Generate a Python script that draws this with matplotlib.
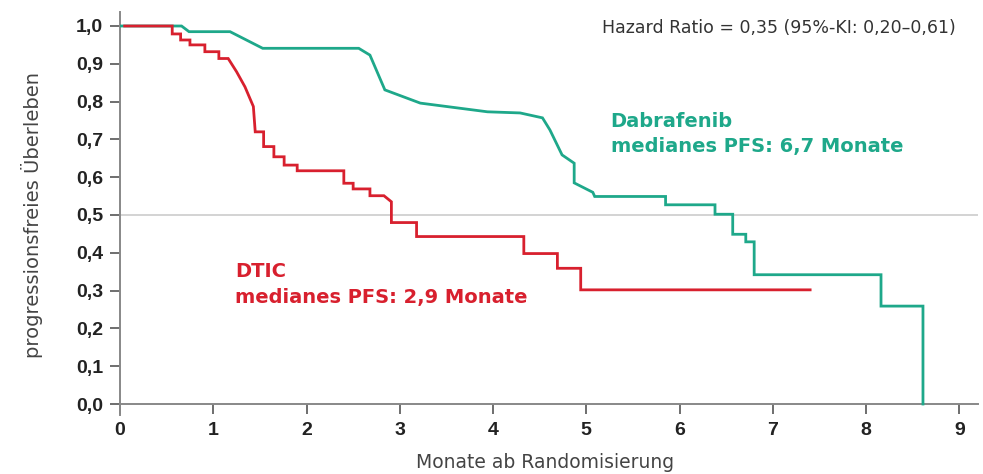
import matplotlib
matplotlib.use("Agg")
import matplotlib.pyplot as plt

plt.rcParams['font.family'] = ['Liberation Sans', 'DejaVu Sans']

# Dabrafenib curve vertices (months, PFS)
dab_t = [0.0, 0.66, 0.74, 1.18, 1.53, 2.56, 2.68, 2.84, 3.22, 3.94, 4.29, 4.53, 4.61, 4.74,
         4.87, 4.87, 5.07, 5.09, 5.85, 5.85, 6.38, 6.38, 6.57, 6.57, 6.71, 6.71, 6.80, 6.80,
         8.16, 8.16, 8.61, 8.61]
dab_s = [1.0, 1.0, 0.985, 0.985, 0.941, 0.941, 0.923, 0.831, 0.796, 0.773, 0.770, 0.757, 0.725, 0.659,
         0.637, 0.585, 0.560, 0.549, 0.549, 0.527, 0.527, 0.502, 0.502, 0.449, 0.449, 0.429, 0.429, 0.342,
         0.342, 0.259, 0.259, 0.0]

# DTIC curve vertices (months, PFS)
dtic_t = [0.05, 0.56, 0.56, 0.65, 0.65, 0.75, 0.75, 0.91, 0.91, 1.06, 1.06, 1.16, 1.25, 1.34, 1.43,
          1.45, 1.54, 1.54, 1.65, 1.65, 1.76, 1.76, 1.90, 1.90, 2.40, 2.40, 2.50, 2.50, 2.68, 2.68,
          2.83, 2.91, 2.91, 3.18, 3.18, 4.33, 4.33, 4.69, 4.69, 4.94, 4.94, 7.40]
dtic_s = [1.0, 1.0, 0.979, 0.979, 0.963, 0.963, 0.950, 0.950, 0.932, 0.932, 0.914, 0.914, 0.879, 0.839, 0.787,
          0.720, 0.720, 0.681, 0.681, 0.654, 0.654, 0.632, 0.632, 0.617, 0.617, 0.584, 0.584, 0.569, 0.569, 0.551,
          0.551, 0.535, 0.480, 0.480, 0.443, 0.443, 0.398, 0.398, 0.359, 0.359, 0.302, 0.302]

x_ticks = list(range(0, 10))
y_ticks = [i / 10 for i in range(0, 11)]
y_labels = [f"{v:.1f}".replace('.', ',') for v in y_ticks]

green = '#1ea88a'
red = '#d8202e'
label_font = ['DejaVu Sans']

fig = plt.figure(figsize=(9.83, 4.74), dpi=100)
ax = fig.add_axes([120 / 983, (474 - 415) / 474, (978 - 120) / 983, (415 - 12) / 474])
ax.set_xlim(0, 9.2)
ax.set_ylim(-11 / 378, (404 - 12) / 378)

ax.axhline(0.5, color='#cccccc', lw=1.2, zorder=1)
ax.plot(dab_t, dab_s, color=green, lw=2.0, solid_joinstyle='miter', zorder=3)
ax.plot(dtic_t, dtic_s, color=red, lw=2.0, solid_joinstyle='miter', zorder=3)

for s in ['top', 'right']:
    ax.spines[s].set_visible(False)
ax.spines['bottom'].set_position(('data', 0))
for s in ['left', 'bottom']:
    ax.spines[s].set_color('#888888')
    ax.spines[s].set_linewidth(1.4)

ax.set_xticks(x_ticks)
ax.set_xticklabels([str(v) for v in x_ticks], fontsize=14, fontweight='bold', color='#222222')
ax.set_yticks(y_ticks)
ax.set_yticklabels(y_labels, fontsize=14, fontweight='bold', color='#222222')
ax.tick_params(axis='both', direction='out', length=7, width=1.2, color='#555555', pad=5)
ax.tick_params(axis='x', pad=6)

fig.text(545 / 983, 1 - 463 / 474, 'Monate ab Randomisierung', fontsize=13.5, family=label_font,
         color='#444444', ha='center', va='center')
fig.text(32 / 983, 1 - 215 / 474, 'progressionsfreies Überleben', rotation=90, fontsize=14,
         family=label_font, color='#444444', ha='center', va='center')

ax.text(8.96, 0.981, 'Hazard Ratio = 0,35 (95%-KI: 0,20–0,61)', fontsize=12.5, family=label_font,
        color='#333333', ha='right', va='baseline')

ax.text(5.26, 0.733, 'Dabrafenib', fontsize=14, fontweight='bold', family=label_font,
        color=green, ha='left', va='baseline')
ax.text(5.26, 0.667, 'medianes PFS: 6,7 Monate', fontsize=14, fontweight='bold', family=label_font,
        color=green, ha='left', va='baseline')
ax.text(1.234, 0.335, 'DTIC', fontsize=14, fontweight='bold', family=label_font,
        color=red, ha='left', va='baseline')
ax.text(1.234, 0.267, 'medianes PFS: 2,9 Monate', fontsize=14, fontweight='bold', family=label_font,
        color=red, ha='left', va='baseline')

fig.savefig('out.png', dpi=100)
